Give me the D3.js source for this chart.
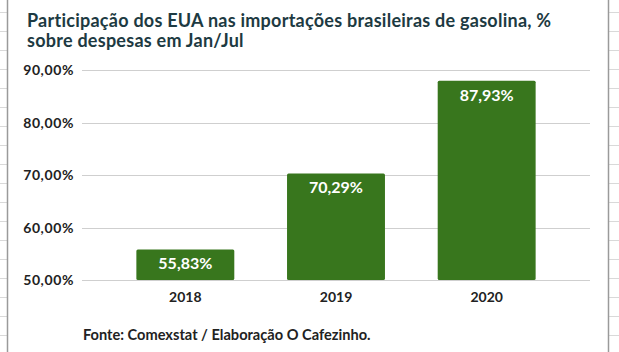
<!DOCTYPE html>
<html><head><meta charset="utf-8">
<script src="https://cdn.jsdelivr.net/npm/d3@7"></script>
<style>html,body{margin:0;padding:0;background:#fff;}svg{display:block;}</style>
</head><body>
<svg id="c" width="619" height="352"></svg>
<script>
const categories = ["2018", "2019", "2020"];
const values = [55.83, 70.29, 87.93];
const yTicks = [50, 60, 70, 80, 90];
const titleLines = ["Participação dos EUA nas importações brasileiras de gasolina, %", "sobre despesas em Jan/Jul"];
const sourceText = "Fonte: Comexstat / Elaboração O Cafezinho.";

const fmt = v => v.toFixed(2).replace(".", ",") + "%";
const svg = d3.select("#c");
const W = 619, H = 352;
const font = "Lato, 'Open Sans', sans-serif";

// spreadsheet background grid
const rowYs = d3.range(12, H, 19);
const sheet = svg.append("g");
sheet.selectAll("line.l").data(rowYs).enter().append("line")
  .attr("x1", 0).attr("x2", 7).attr("y1", d => d + 0.5).attr("y2", d => d + 0.5)
  .attr("stroke", "#d9d9d9").attr("stroke-width", 1);
sheet.selectAll("line.r").data(rowYs).enter().append("line")
  .attr("x1", 609).attr("x2", W).attr("y1", d => d + 0.5).attr("y2", d => d + 0.5)
  .attr("stroke", "#d9d9d9").attr("stroke-width", 1);
sheet.append("line").attr("x1", 7.5).attr("x2", 7.5).attr("y1", 0).attr("y2", H).attr("stroke", "#9a9a9a").attr("stroke-width", 1.5);
sheet.append("line").attr("x1", 608.5).attr("x2", 608.5).attr("y1", 0).attr("y2", H).attr("stroke", "#9a9a9a").attr("stroke-width", 1.5);

// title
svg.append("g").selectAll("text").data(titleLines).enter().append("text")
  .attr("x", 27).attr("y", (d, i) => 27 + i * 20)
  .attr("font-family", font).attr("font-weight", 700).attr("font-size", 18)
  .attr("letter-spacing", 0.25)
  .attr("fill", "#1d3a42").text(d => d);

const y = d3.scaleLinear().domain([50, 90]).range([280, 70]);
const x = d3.scaleBand().domain(categories).range([110, 562]).paddingInner(0.35).paddingOuter(0.175);

// gridlines
svg.append("g").selectAll("line").data(yTicks).enter().append("line")
  .attr("x1", 82).attr("x2", 590)
  .attr("y1", d => Math.round(y(d)) + 0.5).attr("y2", d => Math.round(y(d)) + 0.5)
  .attr("stroke", "#cfcfcf").attr("stroke-width", 1);

// y axis labels
const yAxis = d3.axisLeft(y).tickValues(yTicks).tickSize(0).tickPadding(0).tickFormat(fmt);
const ya = svg.append("g").attr("transform", "translate(74,0)").call(yAxis);
ya.select(".domain").remove();
ya.selectAll("text").attr("font-family", font).attr("font-weight", 700).attr("font-size", 14)
  .attr("letter-spacing", 0.6).attr("fill", "#222").attr("dy", "0.35em");

// bars
svg.append("g").selectAll("rect").data(values).enter().append("rect")
  .attr("x", (d, i) => x(categories[i])).attr("width", x.bandwidth())
  .attr("y", d => y(d)).attr("height", d => y(50) - y(d))
  .attr("rx", 1.5).attr("fill", "#38761d");

// data labels
svg.append("g").selectAll("text").data(values).enter().append("text")
  .attr("x", (d, i) => x(categories[i]) + x.bandwidth() / 2)
  .attr("y", d => y(d) + 20)
  .attr("text-anchor", "middle").attr("font-family", font).attr("font-weight", 700).attr("font-size", 16)
  .attr("fill", "#fff").text(d => fmt(d));

// x axis labels
const xAxis = d3.axisBottom(x).tickSize(0).tickPadding(0);
const xa = svg.append("g").attr("transform", "translate(0,302)").call(xAxis);
xa.select(".domain").remove();
xa.selectAll("text").attr("dy", 0).attr("font-family", font).attr("font-weight", 700).attr("font-size", 14).attr("fill", "#222");

// source
svg.append("text").attr("x", 83).attr("y", 340)
  .attr("font-family", font).attr("font-weight", 700).attr("font-size", 14.6)
  .attr("fill", "#222").text(sourceText);
</script>
</body></html>
